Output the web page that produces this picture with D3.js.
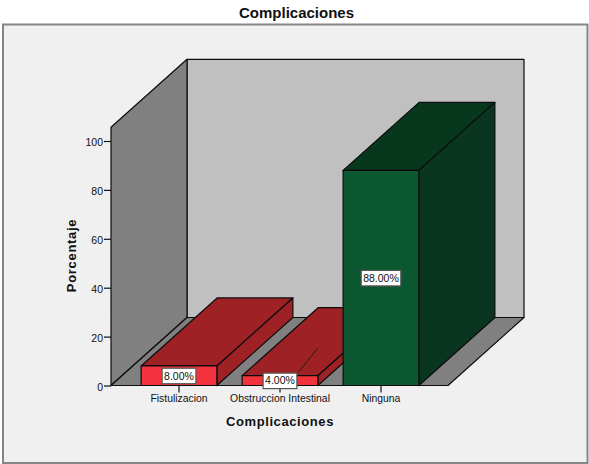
<!DOCTYPE html>
<html>
<head>
<meta charset="utf-8">
<script src="https://cdn.jsdelivr.net/npm/d3@7/dist/d3.min.js"></script>
<style>
html,body{margin:0;padding:0;background:#fff;}
svg{display:block;}
text{font-family:"Liberation Sans",Arial,sans-serif;fill:#111;}
</style>
</head>
<body>
<svg id="chart" width="589" height="464"></svg>
<script>
// Bar chart values, in percent
const categories = ["Fistulizacion", "Obstruccion Intestinal", "Ninguna"];
const percentages = [8, 4, 88];
const valueLabels = ["8.00%", "4.00%", "88.00%"];
const yTicks = [0, 20, 40, 60, 80, 100];
const frontColors = ["#f2333d", "#f2333d", "#0b5730"];
const topColors = ["#9e2126", "#9e2126", "#07371c"];
const sideColors = ["#9e2126", "#9e2126", "#0a3520"];
const chartTitle = "Complicaciones";
const xTitle = "Complicaciones";
const yTitle = "Porcentaje";

const svg = d3.select("#chart");

// Oblique projection: depth offset applied to every back edge
const depthX = 76, depthY = -68;
const floorLeft = 111, floorRight = 448;
const wallTopValue = 105.6;

const y = d3.scaleLinear().domain([0, 100]).range([385.5, 141]);
const x = d3.scaleBand().domain(categories).range([128.5, 431.5]).paddingInner(0.25).paddingOuter(0.125);

const poly = (pts, fill) => svg.append("polygon")
  .attr("points", pts.map(p => p.join(",")).join(" "))
  .attr("fill", fill)
  .attr("stroke", "#0c0c0c")
  .attr("stroke-width", 1.2)
  .attr("stroke-linejoin", "round");

// Outer panel
svg.append("rect").attr("x", 3).attr("y", 24.5).attr("width", 584.5).attr("height", 438.5)
  .attr("fill", "#f0f0f0").attr("stroke", "#858585").attr("stroke-width", 2);

// Title
svg.append("text").attr("x", 296.5).attr("y", 17.5).attr("text-anchor", "middle")
  .attr("font-size", 15).attr("font-weight", "bold").text(chartTitle);

// Box walls and floor
const y0 = y(0), yTop = y(wallTopValue);
poly([[floorLeft + depthX, yTop + depthY], [floorRight + depthX, yTop + depthY],
      [floorRight + depthX, y0 + depthY], [floorLeft + depthX, y0 + depthY]], "#c0c0c0");
poly([[floorLeft, yTop], [floorLeft + depthX, yTop + depthY],
      [floorLeft + depthX, y0 + depthY], [floorLeft, y0]], "#808080");
poly([[floorLeft, y0], [floorLeft + depthX, y0 + depthY],
      [floorRight + depthX, y0 + depthY], [floorRight, y0]], "#808080");

// 3D bars, drawn left to right so nearer faces overlap
categories.forEach((c, i) => {
  const x0 = x(c), x1 = x0 + x.bandwidth(), yv = y(percentages[i]);
  poly([[x0, yv], [x1, yv], [x1 + depthX, yv + depthY], [x0 + depthX, yv + depthY]], topColors[i]);
  poly([[x1, yv], [x1 + depthX, yv + depthY], [x1 + depthX, y0 + depthY], [x1, y0]], sideColors[i]);
  poly([[x0, yv], [x1, yv], [x1, y0], [x0, y0]], frontColors[i]);
});

// Leader line from the small bar's label
const leadX = x(categories[1]) + x.bandwidth() / 2;
svg.append("line").attr("x1", leadX + 18).attr("y1", y(percentages[1]) - 3)
  .attr("x2", leadX + 38).attr("y2", y(percentages[1]) - 28)
  .attr("stroke", "#1a1a1a").attr("stroke-width", 0.9);

// Axes
const yAxis = d3.axisLeft(y).tickValues(yTicks).tickSize(7).tickSizeOuter(0).tickPadding(1);
const gy = svg.append("g").attr("transform", `translate(${floorLeft},0)`).call(yAxis);
gy.select(".domain").remove();
gy.selectAll("text").attr("font-size", 10.5).attr("fill", "#2a2a2a").attr("dy", "0.45em");
gy.selectAll("line").attr("stroke", "#111").attr("stroke-width", 1.2);

const xAxis = d3.axisBottom(x).tickSize(7).tickSizeOuter(0).tickPadding(2);
const gx = svg.append("g").attr("transform", `translate(0,${y0})`).call(xAxis);
gx.select(".domain").remove();
gx.selectAll("text").attr("font-size", 10.4).attr("fill", "#2a2a2a");
gx.selectAll("line").attr("stroke", "#111").attr("stroke-width", 1.2);

// Axis titles
svg.append("text").attr("x", 280).attr("y", 426).attr("text-anchor", "middle")
  .attr("font-size", 13).attr("font-weight", "bold").attr("letter-spacing", 0.6).text(xTitle);
svg.append("text").attr("transform", "translate(76,255.5) rotate(-90)").attr("text-anchor", "middle")
  .attr("font-size", 13).attr("font-weight", "bold").attr("letter-spacing", 0.7).text(yTitle);

// Value labels in white boxes, centred at half the bar height
categories.forEach((c, i) => {
  const cx = x(c) + x.bandwidth() / 2, cy = y(percentages[i] / 2);
  const g = svg.append("g");
  const t = g.append("text").attr("x", cx).attr("y", cy + 3.8).attr("text-anchor", "middle")
    .attr("font-size", 10.5).attr("fill", "#111").text(valueLabels[i]);
  const w = t.node().getComputedTextLength();
  g.insert("rect", "text").attr("x", cx - w / 2 - 2).attr("y", cy - 7.5).attr("width", w + 4).attr("height", 15.5)
    .attr("fill", "#fff").attr("stroke", "#555").attr("stroke-width", 1.2);
});
</script>
</body>
</html>
